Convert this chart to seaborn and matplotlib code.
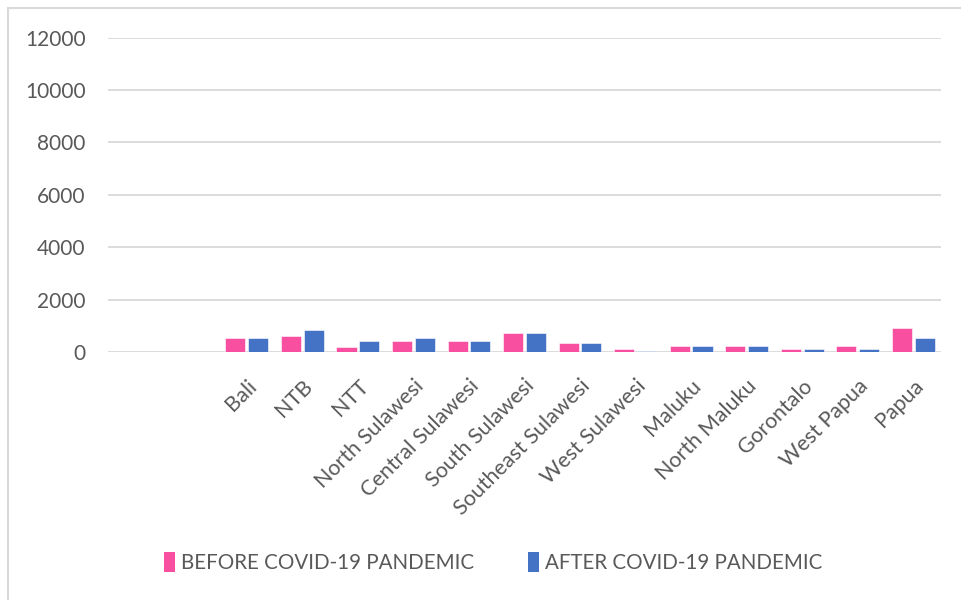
import matplotlib
matplotlib.use("Agg")
import matplotlib.pyplot as plt
from matplotlib.patches import Rectangle, Patch
import pandas as pd
import seaborn as sns

# Provinces (eastern Indonesia) and counts before / after the pandemic
provinces = ["Bali", "NTB", "NTT", "North Sulawesi", "Central Sulawesi",
             "South Sulawesi", "Southeast Sulawesi", "West Sulawesi", "Maluku",
             "North Maluku", "Gorontalo", "West Papua", "Papua"]
before = [520, 620, 200, 420, 420, 720, 330, 115, 215, 215, 115, 215, 925]
after = [520, 830, 420, 520, 420, 720, 330, 40, 215, 215, 115, 115, 520]
series = ["BEFORE COVID-19 PANDEMIC", "AFTER COVID-19 PANDEMIC"]
colors = ["#F94FA0", "#4472C4"]
yticks = [0, 2000, 4000, 6000, 8000, 10000, 12000]

df = pd.DataFrame({"province": provinces, series[0]: before, series[1]: after})
long_df = df.melt(id_vars="province", var_name="period", value_name="count")

sns.set_theme(style="white")
plt.rcParams["font.family"] = ["Lato", "DejaVu Sans"]
text_color = "#595959"

fig = plt.figure(figsize=(9.61, 6.0), dpi=100)
ax = fig.add_axes([108 / 961, 1 - 352 / 600, (941 - 108) / 961, (352 - 37.7) / 600])

sns.barplot(data=long_df, x="province", y="count", hue="period",
            order=provinces, hue_order=series, palette=colors,
            width=0.82, gap=0.12, saturation=1, edgecolor="white",
            linewidth=0.4, legend=False, ax=ax)

# two empty category slots precede the first province
ax.set_xlim(-2.5, len(provinces) - 0.5)
ax.set_ylim(0, 12000)
ax.set_yticks(yticks)
ax.set_yticklabels([str(v) for v in yticks])
ax.yaxis.grid(True, color="#D9D9D9", linewidth=1.3)
ax.set_axisbelow(True)
for s in ax.spines.values():
    s.set_visible(False)
ax.set_xlabel("")
ax.set_ylabel("")
ax.tick_params(axis="y", length=0, pad=16, labelsize=15, labelcolor=text_color)
ax.tick_params(axis="x", length=0, pad=17, labelsize=15.5, labelcolor=text_color)
plt.setp(ax.get_xticklabels(), rotation=45, ha="right", rotation_mode="anchor")

# chart frame
fig.patches.append(Rectangle((8 / 961, -0.1), 1.2, 1 - 8 / 600 + 0.1,
                             transform=fig.transFigure, fill=False,
                             edgecolor="#D9D9D9", linewidth=1.5))

handles = [Patch(facecolor=c, edgecolor="none") for c in colors]
fig.legend(handles, series, loc="center", bbox_to_anchor=(0.513, 0.062),
           ncol=2, frameon=False, fontsize=14.8, labelcolor=text_color,
           handlelength=0.55, handleheight=1.1, handletextpad=0.3,
           columnspacing=2.6)

fig.savefig("out.png", dpi=100)
